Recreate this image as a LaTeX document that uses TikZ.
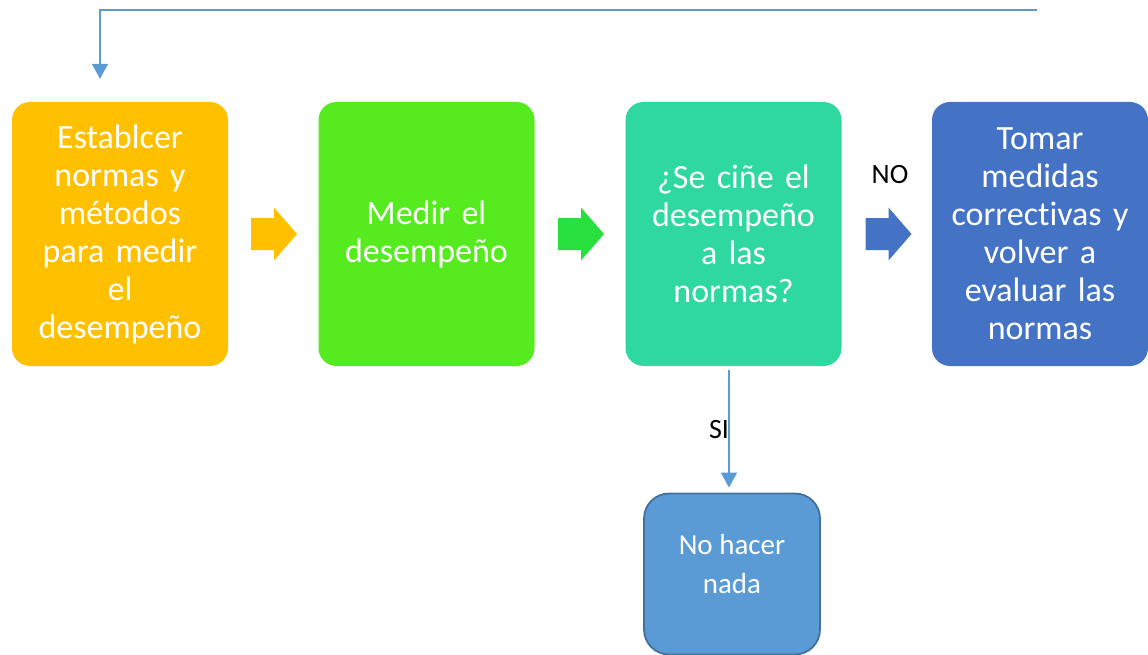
\documentclass[tikz,border=0pt]{standalone}
\usepackage{fontspec}
\setmainfont{Carlito}[Ligatures=CommonOff]
\usetikzlibrary{arrows.meta}
\definecolor{cOrange}{HTML}{FFC000}
\definecolor{cGreen}{HTML}{56EB1F}
\definecolor{cGreenArr}{HTML}{27E03E}
\definecolor{cTeal}{HTML}{2ED8A0}
\definecolor{cBlue}{HTML}{4472C4}
\definecolor{cLight}{HTML}{5B9BD5}
\definecolor{cBorder}{HTML}{41719C}
\definecolor{cLine}{HTML}{5B9BD5}
\tikzset{
  mainbox/.style={rounded corners=18pt, minimum width=216pt, minimum height=264pt,
    inner sep=0pt, text width=214pt, align=center, text=white,
    font=\fontsize{34}{38}\selectfont},
  smallbox/.style={draw=cBorder, line width=1.8pt, fill=cLight, rounded corners=25pt,
    minimum width=176pt, minimum height=161pt, inner sep=0pt},
  smalltext/.style={text=white, align=center, font=\fontsize{29}{39}\selectfont, inner sep=0pt},
  lbl/.style={text=black, font=\fontsize{28}{30}\selectfont, inner sep=0pt},
  conn/.style={draw=cLine, line width=1.6pt, -{Triangle[width=16pt,length=15pt]}},
}
\newcommand\blockarrow[2]{%
  \fill[#1, shift={(#2)}] (-23,-16) -- (0,-16) -- (0,-26.5) -- (23,0) -- (0,26.5) -- (0,16) -- (-23,16) -- cycle;}
\begin{document}
\begin{tikzpicture}[x=1pt,y=-1pt]
\useasboundingbox (0,0) rectangle (1148,655);

\node[mainbox, fill=cOrange] (b1) at (120,234) {Establcer\\normas y\\métodos\\para medir\\el\\desempeño};
\node[mainbox, fill=cGreen] (b2) at (426.5,234) {Medir el\\desempeño};
\node[mainbox, fill=cTeal] (b3) at (733.5,234) {¿Se ciñe el\\desempeño\\a las\\normas?};
\node[mainbox, fill=cBlue] (b4) at (1040,234) {Tomar\\medidas\\correctivas y\\volver a\\evaluar las\\normas};
\node[smallbox] (b5) at (732,574) {};
\node[smalltext] (b5t) at (732,564) {No hacer\\nada};

\coordinate (a1) at (274,234);
\coordinate (a2) at (581,234);
\coordinate (a3) at (888.5,234);
\blockarrow{cOrange}{a1}
\blockarrow{cGreenArr}{a2}
\blockarrow{cBlue}{a3}

\node[lbl] (no) at (890,175) {NO};
\node[lbl] (si) at (719,430) {SI};

\coordinate (fb) at (1037,10);
\draw[conn, shorten >=23pt] (fb) -| ([xshift=-20pt]b1.north);
\draw[conn, shorten >=5pt] ([xshift=-4.5pt,yshift=-4pt]b3.south) -- ([xshift=-4.5pt]b3.south |- b5.north);
\end{tikzpicture}
\end{document}
